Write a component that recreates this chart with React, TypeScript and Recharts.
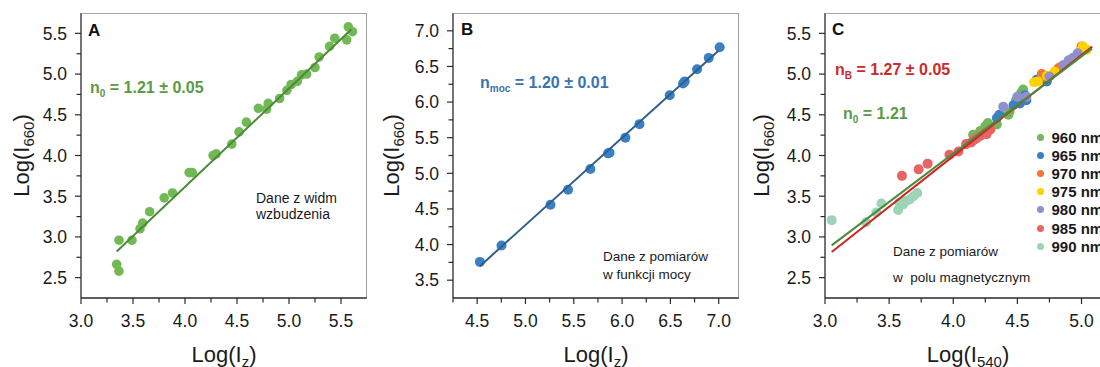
import { ScatterChart, Scatter, XAxis, YAxis, Legend } from "recharts";

const FONT = '"Liberation Sans", Arial, sans-serif';
const AXIS = "#2a2a2a";
const FRAME = "#8a8a8a";

// ---- panel A: excitation spectra ----
const PTS_A: [number, number][] = [
    [3.343, 2.663], [3.365, 2.58], [3.365, 2.96], [3.49, 2.96], [3.567, 3.1],
    [3.593, 3.17], [3.66, 3.31], [3.8, 3.48], [3.88, 3.54], [4.04, 3.79],
    [4.07, 3.79], [4.27, 4.0], [4.3, 4.02], [4.45, 4.14], [4.52, 4.29],
    [4.59, 4.41], [4.705, 4.58], [4.785, 4.57], [4.8, 4.64], [4.91, 4.7],
    [4.98, 4.8], [5.02, 4.87], [5.08, 4.91], [5.12, 4.99], [5.17, 5.0],
    [5.25, 5.08], [5.29, 5.21], [5.39, 5.34], [5.44, 5.44], [5.555, 5.42],
    [5.57, 5.58], [5.61, 5.52],
];
const FIT_A: [number, number][] = [[3.343, 2.82], [5.6, 5.55]];
const X_TICKS_A = [3.0, 3.25, 3.5, 3.75, 4.0, 4.25, 4.5, 4.75, 5.0, 5.25, 5.5];
const Y_TICKS_A = [2.5, 2.75, 3.0, 3.25, 3.5, 3.75, 4.0, 4.25, 4.5, 4.75, 5.0, 5.25, 5.5];

// ---- panel B: power dependence ----
const PTS_B: [number, number][] = [
    [4.528, 3.757], [4.752, 3.986], [5.259, 4.56], [5.441, 4.77], [5.672, 5.06],
    [5.855, 5.28], [5.87, 5.29], [6.034, 5.5], [6.18, 5.69], [6.493, 6.095],
    [6.631, 6.26], [6.648, 6.29], [6.776, 6.46], [6.897, 6.62], [7.01, 6.77],
];
const FIT_B: [number, number][] = [[4.528, 3.697], [7.0, 6.725]];
const X_TICKS_B = [4.25, 4.5, 4.75, 5.0, 5.25, 5.5, 5.75, 6.0, 6.25, 6.5, 6.75, 7.0];
const Y_TICKS_B = [3.5, 3.75, 4.0, 4.25, 4.5, 4.75, 5.0, 5.25, 5.5, 5.75, 6.0, 6.25, 6.5, 6.75, 7.0];

// ---- panel C: magnetic field, per wavelength ----
const PTS_960: [number, number][] = [
    [4.155, 4.255], [4.21, 4.3], [4.25, 4.36], [4.27, 4.4], [4.34, 4.38],
    [4.43, 4.5], [4.44, 4.54], [4.49, 4.68], [4.53, 4.77], [4.545, 4.81],
];
const PTS_965: [number, number][] = [
    [4.34, 4.46], [4.36, 4.5], [4.47, 4.62], [4.52, 4.64], [4.57, 4.68],
    [4.56, 4.74], [4.65, 4.93], [4.69, 4.95], [4.73, 4.91],
];
const PTS_970: [number, number][] = [
    [4.69, 5.0], [4.71, 4.97], [4.82, 5.07], [4.84, 5.09], [5.0, 5.34],
];
const PTS_975: [number, number][] = [
    [4.63, 4.9], [4.66, 4.91], [4.73, 4.98], [4.79, 5.03], [4.99, 5.28],
    [5.01, 5.34], [5.04, 5.3],
];
const PTS_980: [number, number][] = [
    [4.39, 4.6], [4.5, 4.72], [4.57, 4.72], [4.75, 4.97], [4.86, 5.11],
    [4.9, 5.17], [4.935, 5.2], [4.97, 5.255],
];
const PTS_985: [number, number][] = [
    [3.6, 3.75], [3.73, 3.83], [3.8, 3.9], [3.97, 4.01], [4.04, 4.05],
    [4.1, 4.14], [4.14, 4.16], [4.16, 4.19], [4.18, 4.21], [4.21, 4.24],
    [4.25, 4.28], [4.26, 4.26], [4.29, 4.32],
];
const PTS_990: [number, number][] = [
    [3.052, 3.206], [3.32, 3.18], [3.4, 3.3], [3.44, 3.41], [3.57, 3.33],
    [3.58, 3.42], [3.61, 3.4], [3.63, 3.44], [3.66, 3.46], [3.69, 3.5], [3.72, 3.54],
];
const FIT_C0: [number, number][] = [[3.052, 2.896], [5.083, 5.316]];
const FIT_CB: [number, number][] = [[3.052, 2.814], [5.083, 5.337]];
const SERIES_C = [
    { name: "960 nm", color: "#72b85a", pts: PTS_960 },
    { name: "965 nm", color: "#3a80c8", pts: PTS_965 },
    { name: "970 nm", color: "#f07830", pts: PTS_970 },
    { name: "975 nm", color: "#ffd200", pts: PTS_975 },
    { name: "980 nm", color: "#9090cc", pts: PTS_980 },
    { name: "985 nm", color: "#e86464", pts: PTS_985 },
    { name: "990 nm", color: "#9cd4b8", pts: PTS_990 },
];
const X_TICKS_C = [3.0, 3.25, 3.5, 3.75, 4.0, 4.25, 4.5, 4.75, 5.0];
const Y_TICKS_C = Y_TICKS_A;

const toXY = (pts: [number, number][]) => pts.map(([x, y]) => ({ x, y }));
const isMajor = (v: number) => Math.abs(v * 2 - Math.round(v * 2)) < 1e-6;

const XTick = (props: any) => {
    const { x, y, payload } = props;
    const v = payload.value;
    const major = isMajor(v);
    return (
        <g>
            <line x1={x} y1={y} x2={x} y2={y + (major ? 6 : 4.5)} stroke={AXIS} strokeWidth={1.2} />
            {major && (
                <text x={x} y={y + 29} textAnchor="middle" fontSize={17.5} fill="#1a1a1a" fontFamily={FONT}>
                    {v.toFixed(1)}
                </text>
            )}
        </g>
    );
};

const YTick = (props: any) => {
    const { x, y, payload } = props;
    const v = payload.value;
    const major = isMajor(v);
    return (
        <g>
            <line x1={x} y1={y} x2={x - (major ? 6 : 4.5)} y2={y} stroke={AXIS} strokeWidth={1.2} />
            {major && (
                <text x={x - 14} y={y + 6.3} textAnchor="end" fontSize={17.5} fill="#1a1a1a" fontFamily={FONT}>
                    {v.toFixed(1)}
                </text>
            )}
        </g>
    );
};

const xTitle = (sub: string) => (props: any) => {
    const vb = props.viewBox;
    return (
        <text x={vb.x + vb.width / 2} y={vb.y + 64} textAnchor="middle" fontSize={22} fill="#1a1a1a" fontFamily={FONT}>
            Log(I<tspan dy={5} fontSize={15}>{sub}</tspan><tspan dy={-5}>)</tspan>
        </text>
    );
};

const yTitle = (props: any) => {
    const vb = props.viewBox;
    const cx = 28.5;
    const cy = vb.y + vb.height / 2;
    return (
        <text x={cx} y={cy} transform={`rotate(-90, ${cx}, ${cy})`} textAnchor="middle" fontSize={22} fill="#1a1a1a" fontFamily={FONT}>
            Log(I<tspan dy={5} fontSize={15}>660</tspan><tspan dy={-5}>)</tspan>
        </text>
    );
};

const dot = (color: string, r: number) => (p: any) => <circle cx={p.cx} cy={p.cy} r={r} fill={color} />;
const noDot = () => <g />;

interface PanelProps {
    left: number;
    width: number;
    yWidth: number;
    xDomain: [number, number];
    yDomain: [number, number];
    xTicks: number[];
    yTicks: number[];
    xSub: string;
    children: any;
}

const Panel = ({ left, width, yWidth, xDomain, yDomain, xTicks, yTicks, xSub, children }: PanelProps) => (
    <div style={{ position: "absolute", left, top: 0 }}>
        <ScatterChart width={width} height={367} margin={{ top: 13, right: width - yWidth - 286, bottom: 0, left: 0 }}>
            <XAxis type="number" dataKey="x" domain={xDomain} allowDataOverflow ticks={xTicks} interval={0}
                tickSize={0} tickMargin={0} tickLine={false} tick={<XTick />} height={69}
                axisLine={{ stroke: AXIS, strokeWidth: 1.3 }} label={{ content: xTitle(xSub) }} />
            <YAxis type="number" dataKey="y" domain={yDomain} allowDataOverflow ticks={yTicks} interval={0}
                tickSize={0} tickMargin={0} tickLine={false} tick={<YTick />} width={yWidth}
                axisLine={{ stroke: AXIS, strokeWidth: 1.3 }} label={{ content: yTitle }} />
            {children}
            <Scatter data={[{ x: xDomain[0], y: yDomain[1] }, { x: xDomain[1], y: yDomain[1] }, { x: xDomain[1], y: yDomain[0] }]}
                line={{ stroke: FRAME, strokeWidth: 1.6 }} shape={noDot} isAnimationActive={false} legendType="none" />
        </ScatterChart>
    </div>
);

const C_LEGEND = () => (
    <div style={{ fontFamily: FONT }}>
        {SERIES_C.map((s) => (
            <div key={s.name} style={{ display: "flex", alignItems: "center", height: 18.2 }}>
                <span style={{ width: 7, height: 7, borderRadius: "50%", background: s.color, flexShrink: 0 }} />
                <span style={{ marginLeft: 8, fontSize: 15, fontWeight: 700, color: "#1a1a1a", whiteSpace: "nowrap" }}>{s.name}</span>
            </div>
        ))}
    </div>
);

const App = () => (
    <div style={{ position: "fixed", left: 0, top: 0, width: 1100, height: 367, overflow: "hidden", background: "#fff" }}>
        <Panel left={0} width={370} yWidth={81} xDomain={[3.0, 5.75]} yDomain={[2.25, 5.75]}
            xTicks={X_TICKS_A} yTicks={Y_TICKS_A} xSub="z">
            <Scatter data={toXY(PTS_A)} shape={dot("#72b955", 4.8)} isAnimationActive={false} />
            <Scatter data={toXY(FIT_A)} line={{ stroke: "#4c8a3a", strokeWidth: 2 }} shape={noDot} isAnimationActive={false} />
        </Panel>
        <Panel left={370} width={370} yWidth={83} xDomain={[4.25, 7.21]} yDomain={[3.25, 7.25]}
            xTicks={X_TICKS_B} yTicks={Y_TICKS_B} xSub="z">
            <Scatter data={toXY(PTS_B)} shape={dot("#3c80c4", 5)} isAnimationActive={false} />
            <Scatter data={toXY(FIT_B)} line={{ stroke: "#2c5f8e", strokeWidth: 2 }} shape={noDot} isAnimationActive={false} />
        </Panel>
        <Panel left={740} width={380} yWidth={85} xDomain={[3.0, 5.23]} yDomain={[2.25, 5.75]}
            xTicks={X_TICKS_C} yTicks={Y_TICKS_C} xSub="540">
            {SERIES_C.map((s) => (
                <Scatter key={s.name} name={s.name} data={toXY(s.pts)} fill={s.color} shape={dot(s.color, 5)} isAnimationActive={false} />
            ))}
            <Scatter data={toXY(FIT_CB)} line={{ stroke: "#d02222", strokeWidth: 2 }} shape={noDot} isAnimationActive={false} />
            <Scatter data={toXY(FIT_C0)} line={{ stroke: "#4a8a3a", strokeWidth: 2 }} shape={noDot} isAnimationActive={false} />
            <Legend layout="vertical" align="center" verticalAlign="middle" content={C_LEGEND}
                wrapperStyle={{ position: "absolute", left: 296.5, top: 128, width: 100, height: 130 }} />
        </Panel>

        {/* panel letters and notes */}
        <svg width={1100} height={367} style={{ position: "absolute", left: 0, top: 0, pointerEvents: "none" }} fontFamily={FONT}>
            <text x={88} y={36} fontSize={17} fontWeight={700} fill="#111">A</text>
            <text x={461} y={35} fontSize={17} fontWeight={700} fill="#111">B</text>
            <text x={832} y={35} fontSize={17} fontWeight={700} fill="#111">C</text>

            <text x={90} y={93} fontSize={16} fontWeight={700} fill="#5a9a44">
                n<tspan dy={4} fontSize={10}>0</tspan><tspan dy={-4}> = 1.21 ± 0.05</tspan>
            </text>
            <text x={480} y={88} fontSize={16} fontWeight={700} fill="#3a74ae">
                n<tspan dy={4} fontSize={10}>moc</tspan><tspan dy={-4}> = 1.20 ± 0.01</tspan>
            </text>
            <text x={835} y={75} fontSize={16} fontWeight={700} fill="#cc2a2a">
                n<tspan dy={4} fontSize={10}>B</tspan><tspan dy={-4}> = 1.27 ± 0.05</tspan>
            </text>
            <text x={843} y={119} fontSize={16} fontWeight={700} fill="#5a9a44">
                n<tspan dy={4} fontSize={10}>0</tspan><tspan dy={-4}> = 1.21</tspan>
            </text>

            <text x={256} y={203} fontSize={14} fill="#1a1a1a">Dane z widm</text>
            <text x={256} y={219} fontSize={14} fill="#1a1a1a">wzbudzenia</text>
            <text x={603} y={261} fontSize={13.5} fill="#1a1a1a">Dane z pomiarów</text>
            <text x={603} y={279} fontSize={13.5} fill="#1a1a1a">w funkcji mocy</text>
            <text x={893} y={256} fontSize={13.5} fill="#1a1a1a">Dane z pomiarów</text>
            <text x={893} y={282} fontSize={13.5} fill="#1a1a1a" style={{ whiteSpace: "pre" }}>w  polu magnetycznym</text>
        </svg>
    </div>
);

export default App;
